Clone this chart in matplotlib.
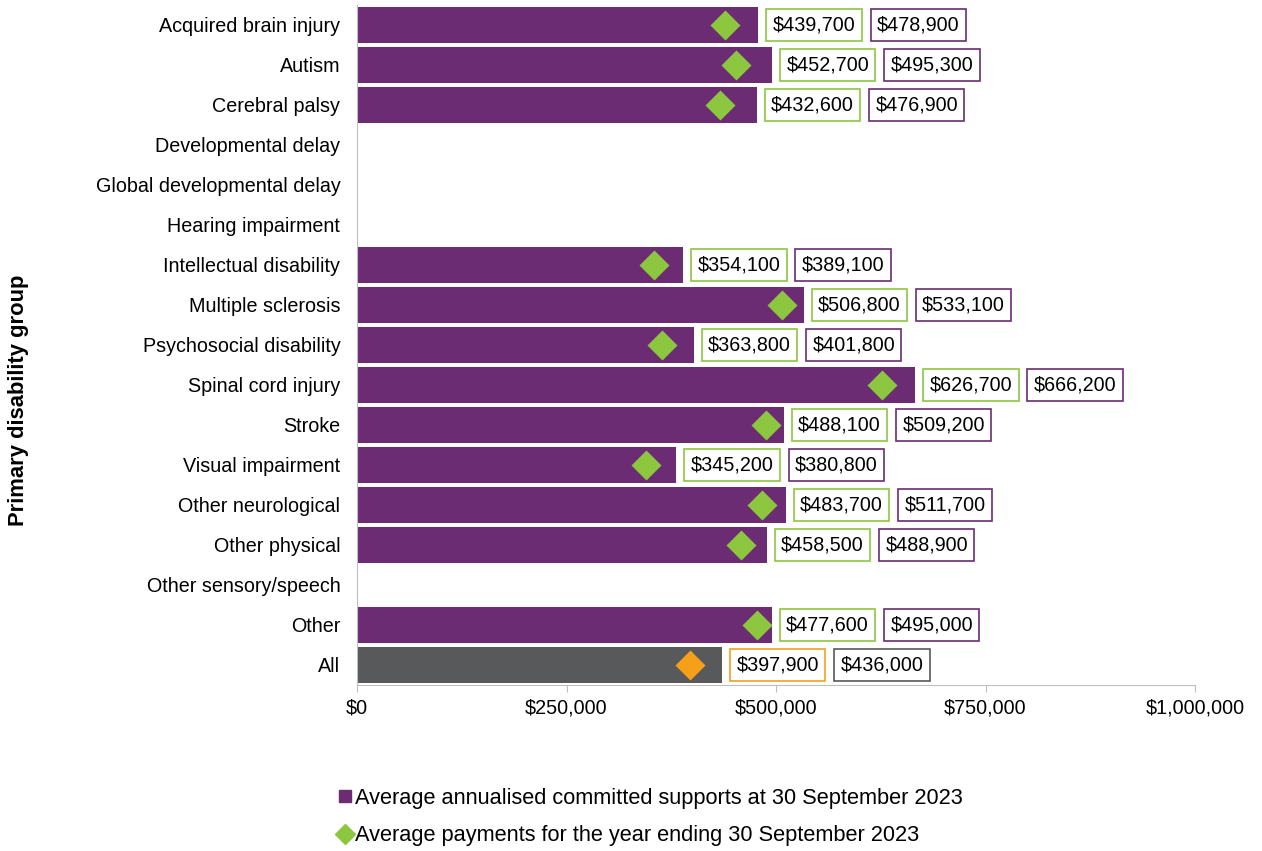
import numpy as np
import matplotlib.pyplot as plt
from matplotlib.lines import Line2D

plt.rcParams['font.family'] = ['Liberation Sans', 'DejaVu Sans']

categories = ["Acquired brain injury", "Autism", "Cerebral palsy", "Developmental delay",
              "Global developmental delay", "Hearing impairment", "Intellectual disability",
              "Multiple sclerosis", "Psychosocial disability", "Spinal cord injury", "Stroke",
              "Visual impairment", "Other neurological", "Other physical",
              "Other sensory/speech", "Other", "All"]
# nan = no data shown for that group
payments = [439700, 452700, 432600, np.nan, np.nan, np.nan, 354100, 506800, 363800,
            626700, 488100, 345200, 483700, 458500, np.nan, 477600, 397900]
committed = [478900, 495300, 476900, np.nan, np.nan, np.nan, 389100, 533100, 401800,
             666200, 509200, 380800, 511700, 488900, np.nan, 495000, 436000]
xticks = [0, 250000, 500000, 750000, 1000000]

purple = '#6B2C73'
green = '#8DC63F'
grey = '#58595B'
orange = '#F6A01A'

fig = plt.figure(figsize=(12.62, 8.51), dpi=100)
ax = fig.add_axes([357 / 1262, 1 - 685 / 851, (1195 - 357) / 1262, 680 / 851])

y = np.arange(len(categories))
bar_cols = [purple] * (len(categories) - 1) + [grey]
dia_cols = [green] * (len(categories) - 1) + [orange]
ax.barh(y, np.nan_to_num(committed), height=0.9, color=bar_cols)

for i in range(len(categories)):
    if np.isnan(committed[i]):
        continue
    ax.plot(payments[i], y[i], marker='D', ms=15, color=dia_cols[i], mec='none')
    a1 = ax.annotate(f"${payments[i]:,.0f}", xy=(committed[i], y[i]), xytext=(10.3, 0),
                     textcoords='offset points', va='center', ha='left', fontsize=14.2,
                     bbox=dict(boxstyle='square,pad=0.32', fc='white', ec=dia_cols[i], lw=1.2))
    ax.annotate(f"${committed[i]:,.0f}", xy=(1, 0.5), xycoords=a1, xytext=(15.5, 0),
                textcoords='offset points', va='center', ha='left', fontsize=14.2,
                bbox=dict(boxstyle='square,pad=0.32', fc='white', ec=bar_cols[i], lw=1.2))

ax.set_ylim(len(categories) - 0.5, -0.5)
ax.set_xlim(0, 1000000)
ax.set_yticks(y)
ax.set_yticklabels(categories, fontsize=14.2)
ax.set_xticks(xticks)
ax.set_xticklabels([f"${v:,.0f}" for v in xticks], fontsize=14.2)
ax.tick_params(axis='y', length=0, pad=12)
ax.tick_params(axis='x', length=5, color='#BFBFBF', pad=5)
for s in ['top', 'right']:
    ax.spines[s].set_visible(False)
for s in ['left', 'bottom']:
    ax.spines[s].set_color('#BFBFBF')

fig.text(19 / 1262, 1 - 400 / 851, "Primary disability group", rotation=90,
         va='center', ha='center', fontsize=15.8, fontweight='bold')
# title of the figure is cut off at the top of the image
fig.text(0.0, 1.0 + 0.017, "ge at 30 September 2023 by primary disability", fontsize=14,
         fontweight='bold', va='bottom', ha='left')

handles = [Line2D([], [], ls='none', marker='s', ms=8, color=purple),
           Line2D([], [], ls='none', marker='D', ms=10, color=green)]
labels = ["Average annualised committed supports at 30 September 2023",
          "Average payments for the year ending 30 September 2023"]
fig.legend(handles, labels, loc='upper left', bbox_to_anchor=(328 / 1262, 1 - 777 / 851),
           frameon=False, fontsize=15.7, handlelength=0.6, handletextpad=0.15,
           labelspacing=0.75, borderpad=0)

fig.savefig('out.png', dpi=100)
